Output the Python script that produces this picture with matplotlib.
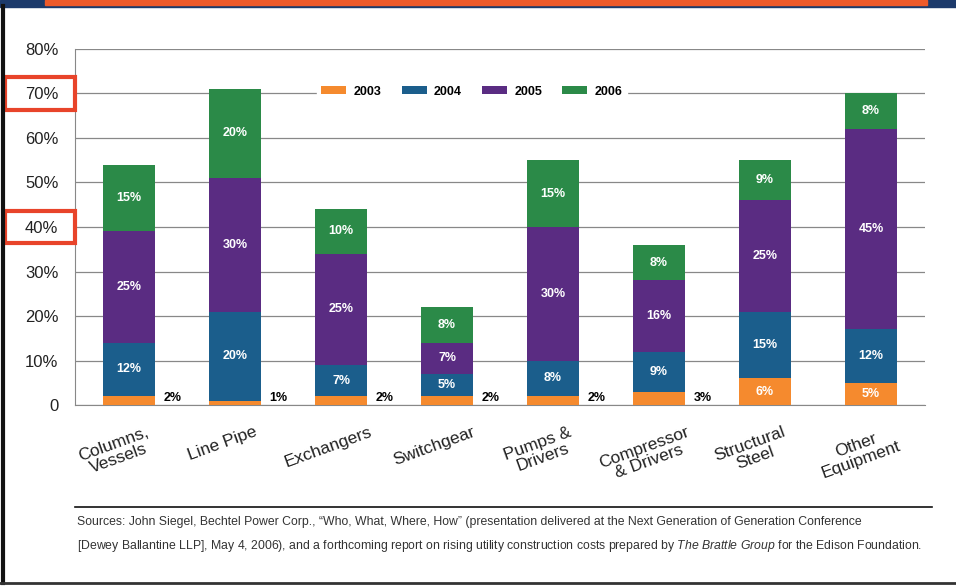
import numpy as np
import matplotlib.pyplot as plt
from matplotlib.patches import Rectangle
from matplotlib.lines import Line2D

# data (percent)
categories = ["Columns,\nVessels", "Line Pipe", "Exchangers", "Switchgear",
              "Pumps &\nDrivers", "Compressor\n& Drivers", "Structural\nSteel",
              "Other\nEquipment"]
years = ["2003", "2004", "2005", "2006"]
v2003 = [2, 1, 2, 2, 2, 3, 6, 5]
v2004 = [12, 20, 7, 5, 8, 9, 15, 12]
v2005 = [25, 30, 25, 7, 30, 16, 25, 45]
v2006 = [15, 20, 10, 8, 15, 8, 9, 8]
yticks = [0, 10, 20, 30, 40, 50, 60, 70, 80]
ytick_labels = ["0", "10%", "20%", "30%", "40%", "50%", "60%", "70%", "80%"]

colors = ["#F58A2E", "#1B5E8C", "#5A2C82", "#2B8A48"]
plt.rcParams['font.family'] = ['Liberation Sans', 'DejaVu Sans']
plt.rcParams['mathtext.fontset'] = 'custom'
plt.rcParams['mathtext.it'] = 'Liberation Sans:italic'
plt.rcParams['mathtext.rm'] = 'Liberation Sans'

fig = plt.figure(figsize=(9.56, 5.88), dpi=100)
ax = fig.add_axes([0.0785, 0.311, 0.889, 0.606])

x = np.arange(len(categories))
series = [v2003, v2004, v2005, v2006]
bottom = np.zeros(len(categories))
width = 0.49
for i, vals in enumerate(series):
    vals = np.array(vals)
    ax.bar(x, vals, width, bottom=bottom, color=colors[i], label=years[i],
           zorder=3, linewidth=0)
    for j, v in enumerate(vals):
        if i == 0 and j < 6:
            # small 2003 values sit to the right of the bar
            ax.text(x[j] + 0.41, bottom[j] + 1.5, f"{v}%", ha='center',
                    va='center', fontsize=9, fontweight='bold', color='black')
        else:
            ax.text(x[j], bottom[j] + v / 2, f"{v}%", ha='center', va='center',
                    fontsize=9, fontweight='bold', color='white', zorder=4)
    bottom += vals

ax.set_xlim(-0.51, 7.51)
ax.set_ylim(0, 80)
ax.set_yticks(yticks)
ax.set_yticklabels(ytick_labels, fontsize=12, color='#222222')
ax.yaxis.grid(True, color='#888888', linewidth=0.9, zorder=0)
ax.tick_params(axis='y', length=0, pad=12)
ax.set_xticks(x - 0.12)
ax.set_xticklabels(categories, fontsize=12.5, rotation=20, ha='center',
                   linespacing=1.0, color='#222222')
ax.tick_params(axis='x', length=0, pad=14)
for s in ['top', 'right']:
    ax.spines[s].set_visible(False)
ax.spines['left'].set_color('#888888')
ax.spines['bottom'].set_color('#888888')

leg = ax.legend(loc='upper center', bbox_to_anchor=(0.467, 0.925), ncol=4,
                frameon=True, prop={'weight': 'bold', 'size': 9},
                handlelength=2.0, handleheight=0.6, handletextpad=0.6,
                columnspacing=1.6, borderpad=0.3, edgecolor='white',
                facecolor='white', framealpha=1, fancybox=False)
leg.set_zorder(5)

# red boxes around 70% and 40%
for yv in [70, 40]:
    yc = 0.311 + 0.606 * yv / 80
    fig.patches.append(Rectangle((0.005, yc - 0.028), 0.073, 0.056,
                                 transform=fig.transFigure, fill=False,
                                 edgecolor='#E8442A', linewidth=3))

# top band and frame
fig.patches.append(Rectangle((0, 0.988), 1, 0.012, transform=fig.transFigure,
                             color='#1C3A6B'))
fig.patches.append(Rectangle((0.047, 0.992), 0.923, 0.008,
                             transform=fig.transFigure, color='#EE5A2A'))
fig.lines.append(Line2D([0.003, 0.003], [0.008, 0.99],
                        transform=fig.transFigure, color='#111111', linewidth=3))
fig.lines.append(Line2D([0, 1], [0.008, 0.008],
                        transform=fig.transFigure, color='#333333', linewidth=2))

# footer
fig.lines.append(Line2D([0.078, 0.975], [0.138, 0.138],
                        transform=fig.transFigure, color='#111111', linewidth=1.2))
fig.text(0.081, 0.112,
         "Sources: John Siegel, Bechtel Power Corp., \u201cWho, What, Where, How\u201d "
         "(presentation delivered at the Next Generation of Generation Conference",
         fontsize=8.8, color='#333333', va='center')
fig.text(0.081, 0.072,
         "[Dewey Ballantine LLP], May 4, 2006), and a forthcoming report on rising "
         "utility construction costs prepared by $\\it{The\\ Brattle\\ Group}$ "
         "for the Edison Foundation.",
         fontsize=8.8, color='#333333', va='center')

fig.savefig("out.png", dpi=100)
